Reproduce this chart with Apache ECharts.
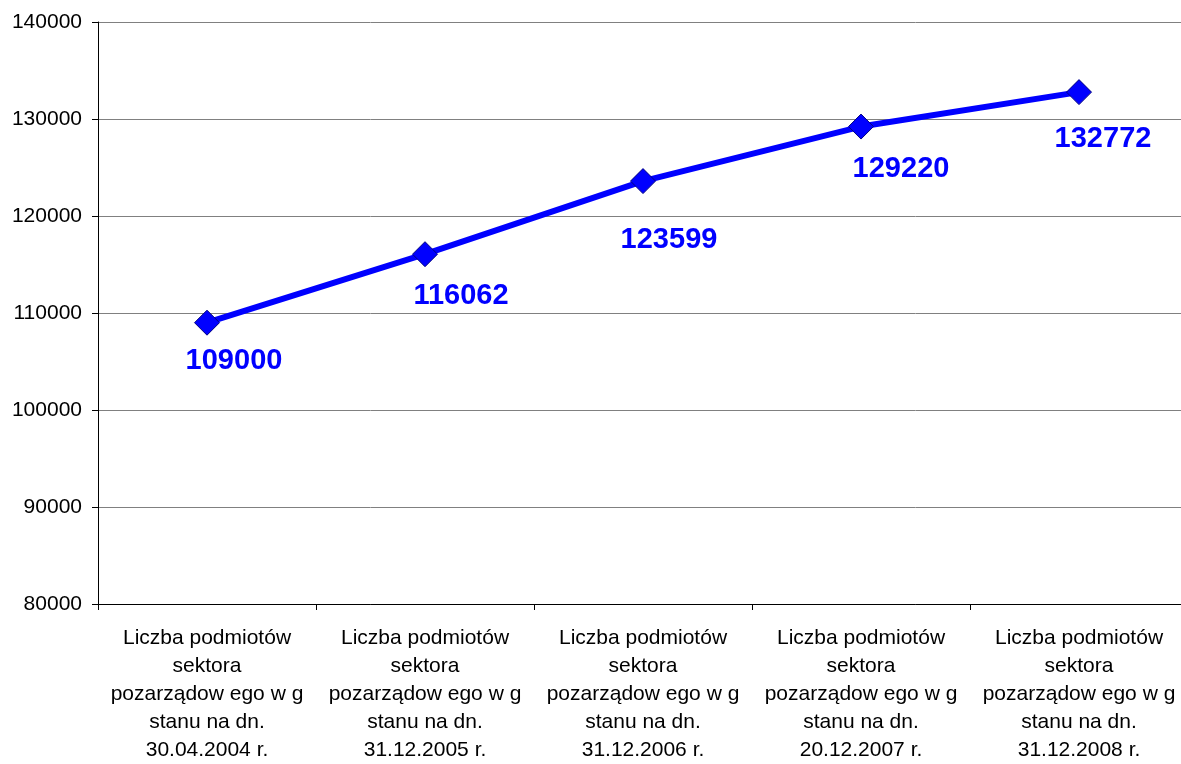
<!DOCTYPE html>
<html>
<head>
<meta charset="utf-8">
<script src="https://cdn.jsdelivr.net/npm/echarts@6/dist/echarts.min.js"></script>
<style>
  html, body { margin: 0; padding: 0; background: #fff; overflow: hidden; }
  /* wykres jest szerszy niż okno - prawa krawędź ucięta jak w oryginale */
  #main { width: 1188px; height: 764px; }
</style>
</head>
<body>
<div id="main"></div>
<script>
// dane
var categories = [
  'Liczba podmiotów\nsektora\npozarządow ego w g\nstanu na dn.\n30.04.2004 r.',
  'Liczba podmiotów\nsektora\npozarządow ego w g\nstanu na dn.\n31.12.2005 r.',
  'Liczba podmiotów\nsektora\npozarządow ego w g\nstanu na dn.\n31.12.2006 r.',
  'Liczba podmiotów\nsektora\npozarządow ego w g\nstanu na dn.\n20.12.2007 r.',
  'Liczba podmiotów\nsektora\npozarządow ego w g\nstanu na dn.\n31.12.2008 r.'
];
var values = [109000, 116062, 123599, 129220, 132772];

// przesunięcia etykiet wartości (ręcznie ułożone w oryginale)
var labelOffsets = [[27, 38], [36, 42], [26, 59], [40, 42], [24, 47]];

var chart = echarts.init(document.getElementById('main'));

var option = {
  animation: false,
  textStyle: { fontFamily: 'Liberation Sans, Arial, sans-serif' },
  grid: { left: 98, top: 22, right: 0, bottom: 160 },
  xAxis: {
    type: 'category',
    data: categories,
    boundaryGap: true,
    axisLine: { lineStyle: { color: '#000', width: 1 } },
    axisTick: { show: true, length: 6, lineStyle: { color: '#000' } },
    axisLabel: {
      color: '#000',
      fontSize: 21,
      lineHeight: 28,
      margin: 20,
      interval: 0
    }
  },
  yAxis: {
    type: 'value',
    min: 80000,
    max: 140000,
    interval: 10000,
    axisLine: { show: true, lineStyle: { color: '#000', width: 1 } },
    axisTick: { show: true, length: 6, lineStyle: { color: '#000' } },
    axisLabel: {
      color: '#000',
      fontSize: 21,
      margin: 16,
      formatter: function (v) { return String(v); }
    },
    splitLine: { show: true, lineStyle: { color: '#808080', width: 1 } }
  },
  series: [
    {
      type: 'line',
      data: values.map(function (v, i) {
        return { value: v, label: { offset: labelOffsets[i] } };
      }),
      symbol: 'diamond',
      symbolSize: 25,
      lineStyle: { color: '#0000FF', width: 6 },
      itemStyle: { color: '#0000FF', borderColor: '#000080', borderWidth: 1 },
      label: {
        show: true,
        position: 'inside',
        color: '#0000FF',
        fontSize: 29,
        fontWeight: 'bold'
      }
    }
  ]
};

option && chart.setOption(option);
</script>
</body>
</html>
